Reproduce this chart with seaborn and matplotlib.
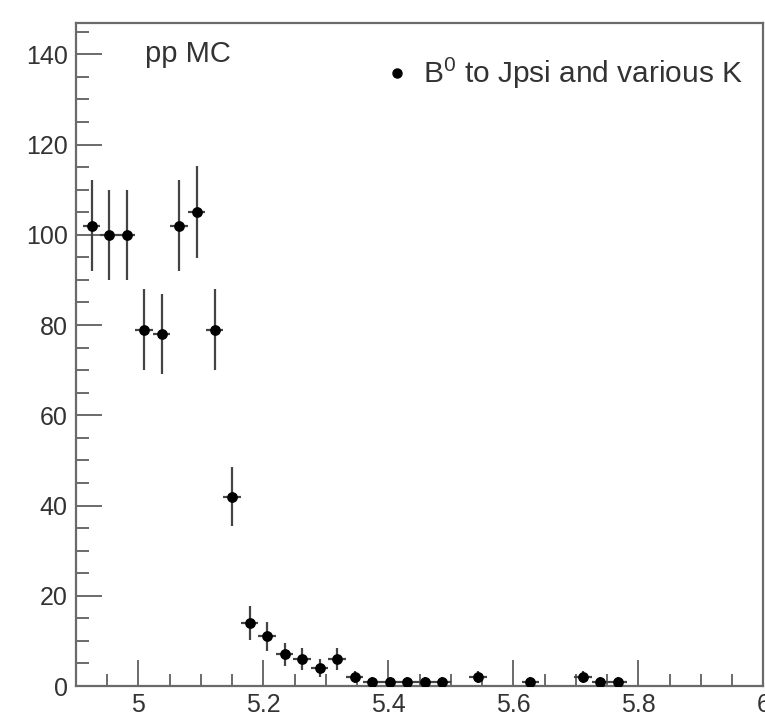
import matplotlib
matplotlib.use("Agg")
import matplotlib.pyplot as plt
from matplotlib.lines import Line2D
from matplotlib.ticker import MultipleLocator, FixedLocator
import seaborn as sns
import pandas as pd

# Data (bin centres, counts, errors)
mass = [4.925, 4.953, 4.981, 5.009, 5.037, 5.065, 5.093, 5.122, 5.150, 5.178,
        5.206, 5.234, 5.262, 5.290, 5.318, 5.346, 5.374, 5.402, 5.430, 5.458,
        5.486, 5.543, 5.627, 5.711, 5.739, 5.767]
counts = [102, 100, 100, 79, 78, 102, 105, 79, 42, 14,
          11, 7, 6, 4, 6, 2, 1, 1, 1, 1,
          1, 2, 1, 2, 1, 1]
errors = [10.1, 10.0, 10.0, 8.9, 8.8, 10.1, 10.2, 8.9, 6.5, 3.7,
          3.3, 2.6, 2.4, 2.0, 2.4, 1.4, 1.0, 1.0, 1.0, 1.0,
          1.0, 1.4, 1.0, 1.4, 1.0, 1.0]
half_bin = 0.014

x_ticks = [5.0, 5.2, 5.4, 5.6, 5.8, 6.0]
x_tick_labels = ["5", "5.2", "5.4", "5.6", "5.8", "6"]
y_ticks = [0, 20, 40, 60, 80, 100, 120, 140]
y_tick_labels = ["0", "20", "40", "60", "80", "100", "120", "140"]
legend_label = r"B$^{0}$ to Jpsi and various K"
corner_text = "pp MC"

df = pd.DataFrame({"mass": mass, "counts": counts, "err": errors})

sns.set_theme(style="ticks")
plt.rcParams["font.family"] = ["Liberation Sans", "DejaVu Sans"]
plt.rcParams["mathtext.fontset"] = "custom"
plt.rcParams["mathtext.rm"] = "Liberation Sans"

fig = plt.figure(figsize=(7.65, 7.17), dpi=100)
ax = fig.add_axes([0.0993, 0.0432, 0.8987, 0.9251])

ax.errorbar(df["mass"], df["counts"], yerr=df["err"], xerr=half_bin,
            fmt="none", ecolor="#444444", elinewidth=1.6, capsize=0, zorder=2)
sns.scatterplot(data=df, x="mass", y="counts", ax=ax, color="black",
                s=60, marker="o", edgecolor="black", linewidth=0, zorder=3,
                legend=False)

ax.set_xlim(4.9, 6.0)
ax.set_ylim(0, 147)
ax.set_xlabel("")
ax.set_ylabel("")

ax.xaxis.set_major_locator(FixedLocator(x_ticks))
ax.set_xticklabels(x_tick_labels)
ax.yaxis.set_major_locator(FixedLocator(y_ticks))
ax.set_yticklabels(y_tick_labels)
ax.xaxis.set_minor_locator(MultipleLocator(0.05))
ax.yaxis.set_minor_locator(MultipleLocator(5))

frame_col = "#6a6a6a"
for s in ax.spines.values():
    s.set_visible(True)
    s.set_color(frame_col)
    s.set_linewidth(1.6)

ax.tick_params(axis="both", which="major", direction="in", length=19,
               width=1.4, color=frame_col, labelsize=18, labelcolor="#333333",
               top=False, right=False)
ax.tick_params(axis="both", which="minor", direction="in", length=9,
               width=1.4, color=frame_col, top=False, right=False)
ax.tick_params(axis="x", which="major", pad=5)
ax.tick_params(axis="y", which="major", pad=6)

ax.text(0.10, 0.953, corner_text, transform=ax.transAxes, fontsize=21,
        color="#333333", ha="left", va="center")

handle = Line2D([], [], marker="o", color="black", linestyle="none",
                markersize=6.5)
leg = ax.legend([handle], [legend_label], loc="upper right",
                bbox_to_anchor=(0.97, 0.951), frameon=False, fontsize=21.5,
                handletextpad=0.4, handlelength=0.9, borderaxespad=0,
                borderpad=0)
for t in leg.get_texts():
    t.set_color("#333333")

fig.savefig("out.png", dpi=100)
